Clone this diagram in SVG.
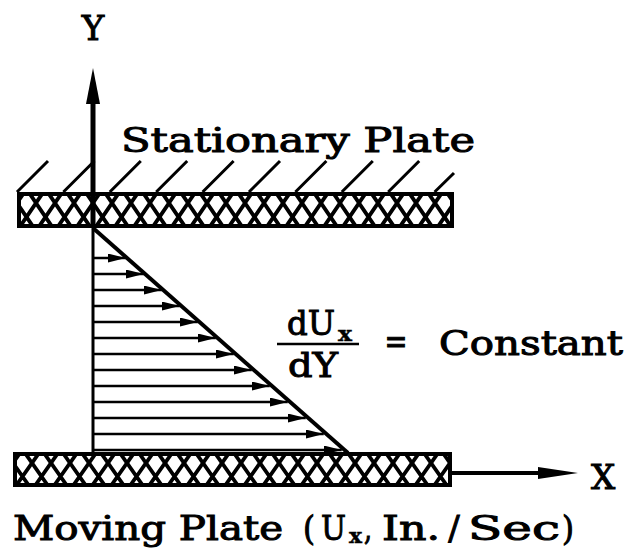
<svg xmlns="http://www.w3.org/2000/svg" width="629" height="556" viewBox="0 0 629 556">
<style>
.t{font-family:"DejaVu Serif","Liberation Serif",serif;font-size:34px;fill:#000;stroke:#000;stroke-width:1}
.s{font-size:20px;font-weight:bold;stroke-width:0.4}
.ln{stroke:#000;fill:none}
.plate{stroke:#000;stroke-width:4}
</style>
<defs>
<pattern id="hTop" patternUnits="userSpaceOnUse" x="17" y="203" width="19" height="28">
<path d="M-22.8,-5.6L3.8,33.6M-3.8,-5.6L22.8,33.6M15.2,-5.6L41.8,33.6M3.8,-5.6L-22.8,33.6M22.8,-5.6L-3.8,33.6M41.8,-5.6L15.2,33.6" stroke="#000" stroke-width="3.8" fill="none"/>
</pattern>
<pattern id="hBot" patternUnits="userSpaceOnUse" x="13" y="463" width="19" height="27">
<path d="M-22.8,-5.4L3.8,32.4M-3.8,-5.4L22.8,32.4M15.2,-5.4L41.8,32.4M3.8,-5.4L-22.8,32.4M22.8,-5.4L-3.8,32.4M41.8,-5.4L15.2,32.4" stroke="#000" stroke-width="3.8" fill="none"/>
</pattern>
<marker id="ah" viewBox="0 0 18 9" refX="18" refY="4.5" markerWidth="18" markerHeight="9" markerUnits="userSpaceOnUse" orient="auto">
<path d="M0,0L18,4.5L0,9z" fill="#000"/>
</marker>
</defs>

<g id="stationary-plate">
<g class="ln" stroke-width="3">
<path d="M17,192L48,161M63.4,192L94.4,161M109.8,192L140.8,161M156.2,192L187.2,161M202.6,192L233.6,161M249,192L280,161M295.4,192L326.4,161M341.8,192L372.8,161M388.2,192L419.2,161M434.6,192L454,173"/>
</g>
<rect class="plate" x="19" y="194" width="433" height="32" fill="url(#hTop)"/>
<text class="t" x="121" y="152" textLength="354" lengthAdjust="spacingAndGlyphs">Stationary Plate</text>
</g>

<g id="moving-plate">
<rect class="plate" x="15" y="454" width="435" height="31" fill="url(#hBot)"/>
<text class="t" x="13" y="540" textLength="270" lengthAdjust="spacingAndGlyphs">Moving Plate</text>
<text class="t" x="303" y="540" textLength="12" lengthAdjust="spacingAndGlyphs">(</text>
<text class="t" x="321" y="540" textLength="25" lengthAdjust="spacingAndGlyphs">U</text>
<text class="t s" x="349" y="543" textLength="13" lengthAdjust="spacingAndGlyphs">x</text>
<text class="t" x="364" y="540" textLength="8" lengthAdjust="spacingAndGlyphs">,</text>
<text class="t" x="382" y="540" textLength="58" lengthAdjust="spacingAndGlyphs">In.</text>
<text class="t" x="454" y="540" text-anchor="middle" font-size="38" stroke-width="0.6">/</text>
<text class="t" x="468" y="540" textLength="92" lengthAdjust="spacingAndGlyphs">Sec</text>
<text class="t" x="562" y="540" textLength="12" lengthAdjust="spacingAndGlyphs">)</text>
</g>

<g id="y-axis">
<line class="ln" x1="93" y1="100" x2="93" y2="228" stroke-width="5"/>
<path d="M93,68L100,104L86,104z" fill="#000"/>
<text class="t" x="93" y="40" text-anchor="middle" font-size="38">Y</text>
</g>

<g id="x-axis">
<line class="ln" x1="452" y1="473" x2="542" y2="473" stroke-width="4"/>
<path d="M578,473L538,467L538,479z" fill="#000"/>
<text class="t" x="603" y="489" text-anchor="middle">X</text>
</g>

<g id="velocity-profile">
<line class="ln" x1="93" y1="228" x2="93" y2="454" stroke-width="3"/>
<line class="ln" x1="93" y1="228" x2="348" y2="453" stroke-width="4"/>
</g>

<g id="connectors" class="ln" stroke-width="2.4" marker-end="url(#ah)">
<line x1="93" y1="258" x2="125.75" y2="258"/>
<line x1="93" y1="274" x2="143.75" y2="274"/>
<line x1="93" y1="290" x2="161.75" y2="290"/>
<line x1="93" y1="306" x2="179.75" y2="306"/>
<line x1="93" y1="322" x2="197.75" y2="322"/>
<line x1="93" y1="338" x2="215.75" y2="338"/>
<line x1="93" y1="354" x2="233.75" y2="354"/>
<line x1="93" y1="370" x2="251.75" y2="370"/>
<line x1="93" y1="386" x2="269.75" y2="386"/>
<line x1="93" y1="402" x2="287.75" y2="402"/>
<line x1="93" y1="418" x2="305.75" y2="418"/>
<line x1="93" y1="434" x2="323.75" y2="434"/>
<line x1="93" y1="450" x2="341.75" y2="450"/>
</g>

<g id="gradient-label">
<text class="t" x="287" y="335" textLength="48" lengthAdjust="spacingAndGlyphs">dU</text>
<text class="t s" x="338" y="341" textLength="14" lengthAdjust="spacingAndGlyphs">x</text>
<line class="ln" x1="277" y1="344" x2="359" y2="344" stroke-width="2.5"/>
<text class="t" x="288" y="377" textLength="50" lengthAdjust="spacingAndGlyphs">dY</text>
<text class="t" x="396" y="353" text-anchor="middle" textLength="23" lengthAdjust="spacingAndGlyphs">=</text>
<text class="t" x="439" y="355" textLength="184" lengthAdjust="spacingAndGlyphs">Constant</text>
</g>
</svg>
